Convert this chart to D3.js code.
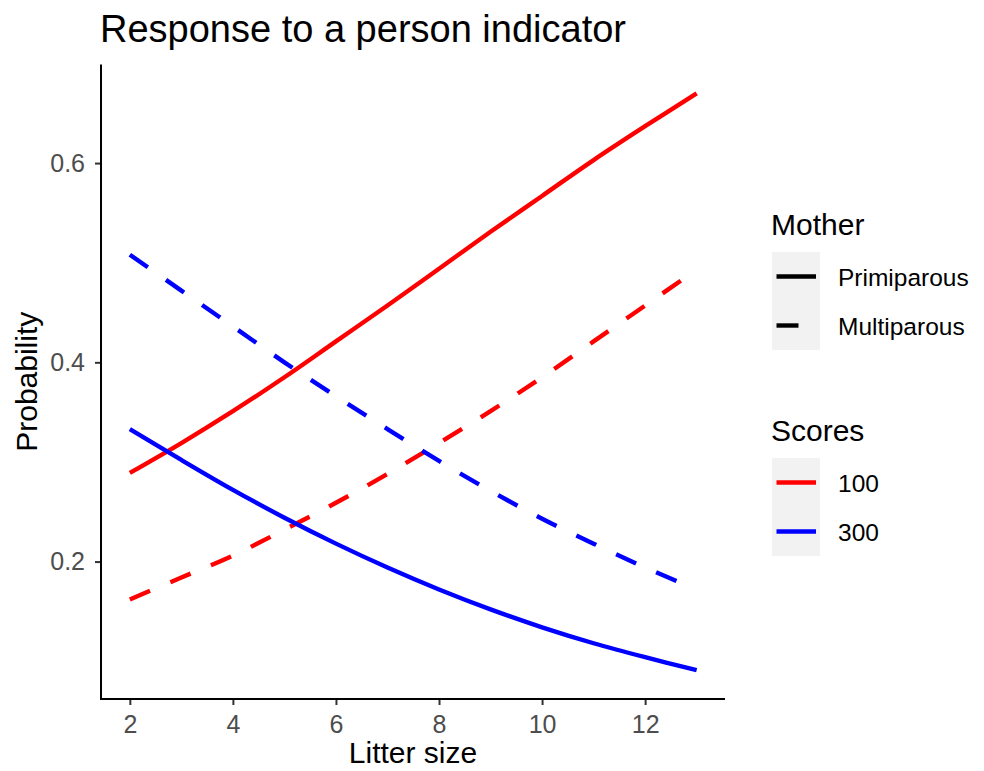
<!DOCTYPE html>
<html>
<head>
<meta charset="utf-8">
<script src="https://cdn.jsdelivr.net/npm/d3@7/dist/d3.min.js"></script>
<style>
  html, body { margin: 0; padding: 0; background: #fff; }
  svg { display: block; font-family: "Liberation Sans", Arial, sans-serif; }
</style>
</head>
<body>
<svg id="chart" width="984" height="771"></svg>
<script>
// ---- Data ----
const litterSize = [2, 3, 4, 5, 6, 7, 8, 9, 10, 11, 12, 13];
const score100Primiparous = [0.289, 0.319, 0.351, 0.385, 0.421, 0.457, 0.494, 0.531, 0.567, 0.603, 0.637, 0.670];
const score100Multiparous = [0.162, 0.184, 0.206, 0.232, 0.259, 0.288, 0.319, 0.351, 0.385, 0.421, 0.457, 0.493];
const score300Primiparous = [0.333, 0.302, 0.272, 0.244, 0.218, 0.194, 0.172, 0.152, 0.134, 0.118, 0.104, 0.091];
const score300Multiparous = [0.508, 0.472, 0.436, 0.400, 0.366, 0.333, 0.301, 0.271, 0.243, 0.218, 0.194, 0.172];
const xTicks = [2, 4, 6, 8, 10, 12];
const yTicks = [0.2, 0.4, 0.6];
const motherLevels = ["Primiparous", "Multiparous"];
const scoreLevels = ["100", "300"];

const seriesList = [
  { score: "100", mother: "Primiparous", values: score100Primiparous },
  { score: "100", mother: "Multiparous", values: score100Multiparous },
  { score: "300", mother: "Primiparous", values: score300Primiparous },
  { score: "300", mother: "Multiparous", values: score300Multiparous }
];

const colorOf = d3.scaleOrdinal().domain(scoreLevels).range(["#FF0000", "#0000FF"]);
const dashOf = d3.scaleOrdinal().domain(motherLevels).range(["none", "22,22"]);

const svg = d3.select("#chart");

// ---- Scales (ggplot-style 5% expansion) ----
const xExt = d3.extent(litterSize);
const xPad = (xExt[1] - xExt[0]) * 0.05;
const allY = seriesList.flatMap(s => s.values);
const yExt = d3.extent(allY);
const yPad = (yExt[1] - yExt[0]) * 0.05;

const panel = { left: 101, right: 725, top: 64.5, bottom: 699 };
const x = d3.scaleLinear().domain([xExt[0] - xPad, xExt[1] + xPad]).range([panel.left + 0.5, panel.right]);
const y = d3.scaleLinear().domain([yExt[0] - yPad, yExt[1] + yPad]).range([panel.bottom, panel.top]);

// ---- Lines ----
const line = d3.line()
  .x((d, i) => x(litterSize[i]))
  .y(d => y(d))
  .curve(d3.curveCatmullRom.alpha(0.5));

svg.append("g").selectAll("path")
  .data(seriesList)
  .join("path")
  .attr("d", d => line(d.values))
  .attr("fill", "none")
  .attr("stroke", d => colorOf(d.score))
  .attr("stroke-width", 4.4)
  .attr("stroke-dasharray", d => dashOf(d.mother))
  .attr("stroke-linecap", "butt");

// ---- Axes ----
const xAxis = d3.axisBottom(x).tickValues(xTicks).tickSize(6).tickPadding(10).tickFormat(d3.format("d"));
const gx = svg.append("g").attr("transform", `translate(0,${panel.bottom})`).call(xAxis);
gx.select(".domain").remove();
gx.append("line").attr("x1", panel.left).attr("x2", panel.right).attr("y1", 0).attr("y2", 0)
  .attr("stroke", "#000").attr("stroke-width", 2);
gx.selectAll(".tick line").attr("stroke", "#333").attr("stroke-width", 2);
gx.selectAll(".tick text").attr("fill", "#4D4D4D").attr("font-size", 25)
  .attr("font-family", "'Liberation Sans', Arial, sans-serif");

const yAxis = d3.axisLeft(y).tickValues(yTicks).tickSize(6).tickPadding(10).tickFormat(d3.format(".1f"));
const gy = svg.append("g").attr("transform", `translate(${panel.left},0)`).call(yAxis);
gy.select(".domain").remove();
gy.append("line").attr("x1", 0).attr("x2", 0).attr("y1", panel.top).attr("y2", panel.bottom + 1)
  .attr("stroke", "#000").attr("stroke-width", 2);
gy.selectAll(".tick line").attr("stroke", "#333").attr("stroke-width", 2);
gy.selectAll(".tick text").attr("fill", "#4D4D4D").attr("font-size", 25)
  .attr("font-family", "'Liberation Sans', Arial, sans-serif");

// ---- Titles ----
svg.append("text").attr("x", 100).attr("y", 42)
  .attr("font-size", 38).attr("fill", "#000").text("Response to a person indicator");

svg.append("text").attr("x", (panel.left + panel.right) / 2).attr("y", 763)
  .attr("text-anchor", "middle").attr("font-size", 30).attr("fill", "#000").text("Litter size");

svg.append("text")
  .attr("transform", `translate(37,${(panel.top + panel.bottom) / 2}) rotate(-90)`)
  .attr("text-anchor", "middle").attr("font-size", 30).attr("fill", "#000").text("Probability");

// ---- Legends ----
function legend(title, top, levels, strokeFor, dashFor) {
  const g = svg.append("g").attr("transform", `translate(772,${top})`);
  g.append("text").attr("x", -1).attr("y", 0).attr("font-size", 30).attr("fill", "#000").text(title);
  const keyTop = 17, keyH = 49, keyW = 48;
  levels.forEach((lv, i) => {
    const ky = keyTop + i * keyH;
    g.append("rect").attr("x", 0).attr("y", ky).attr("width", keyW).attr("height", keyH).attr("fill", "#F2F2F2");
    g.append("line").attr("x1", 4.5).attr("x2", 44).attr("y1", ky + keyH / 2).attr("y2", ky + keyH / 2)
      .attr("stroke", strokeFor(lv)).attr("stroke-width", 4.4).attr("stroke-dasharray", dashFor(lv));
    g.append("text").attr("x", 66).attr("y", ky + keyH / 2 + 9)
      .attr("font-size", 24.5).attr("fill", "#000").text(lv);
  });
}
legend("Mother", 235, motherLevels, () => "#000", lv => dashOf(lv));
legend("Scores", 441, scoreLevels, lv => colorOf(lv), () => "none");
</script>
</body>
</html>
